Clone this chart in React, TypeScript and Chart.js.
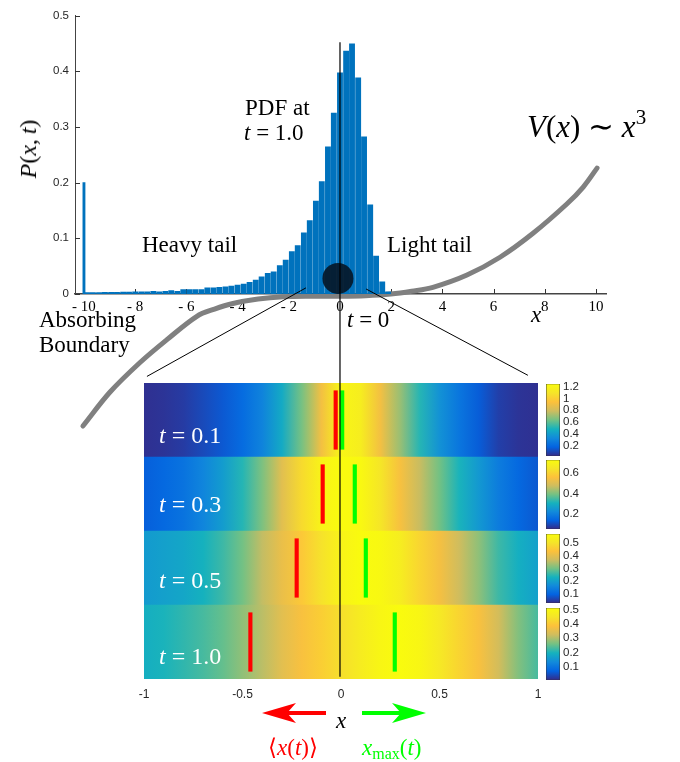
import React, { useEffect, useRef } from "react";
import { Chart, registerables } from "chart.js";
Chart.register(...registerables);

// ---------- top histogram: PDF at t = 1.0 ----------
const BIN_CENTERS = [
  -9.88, -9.65, -9.41, -9.18, -8.94, -8.71, -8.47, -8.24, -8.0, -7.76,
  -7.53, -7.29, -7.06, -6.82, -6.59, -6.35, -6.12, -5.88, -5.65, -5.41,
  -5.18, -4.94, -4.71, -4.47, -4.24, -4.0, -3.76, -3.53, -3.29, -3.06,
  -2.82, -2.59, -2.35, -2.12, -1.88, -1.65, -1.41, -1.18, -0.94, -0.71,
  -0.47, -0.24, 0.0, 0.24, 0.47, 0.71, 0.94, 1.18, 1.41, 1.65, 1.88,
];
const PDF_T1 = [
  0.0025, 0.0025, 0.0025, 0.003, 0.003, 0.003, 0.0035, 0.0035, 0.004, 0.004,
  0.004, 0.005, 0.004, 0.005, 0.006, 0.005, 0.008, 0.008, 0.008, 0.008,
  0.011, 0.011, 0.012, 0.013, 0.014, 0.016, 0.018, 0.021, 0.025, 0.031,
  0.037, 0.04, 0.051, 0.061, 0.076, 0.087, 0.11, 0.132, 0.167, 0.202,
  0.264, 0.325, 0.397, 0.436, 0.449, 0.388, 0.282, 0.16, 0.068, 0.022, 0.004,
];
const BOUNDARY_X = [-10];
const BOUNDARY_P = [0.2];
const TOP_X_TICKS = [-10, -8, -6, -4, -2, 0, 2, 4, 6, 8, 10];
const TOP_Y_TICKS = [0, 0.1, 0.2, 0.3, 0.4, 0.5];

// potential V(x) ~ x^3 (sketched, in the histogram's axis units)
const POT_X = [-10.04, -8.98, -7.81, -6.76, -5.59, -4.9, -4.18, -3.2, -2.23, -1.1, 0, 1.0, 1.99, 2.8, 3.63, 4.96, 6.25, 7.54, 8.87, 9.5, 10.04];
const POT_Y = [-0.237, -0.176, -0.123, -0.082, -0.04, -0.027, -0.017, -0.009, -0.005, -0.004, -0.004, -0.003, 0.0, 0.005, 0.012, 0.034, 0.066, 0.109, 0.162, 0.192, 0.226];

// initial condition at t = 0
const START_X = [-0.08];
const START_P = [0.028];

// zoom guide lines and x = 0 reference line
const ZOOM_L_X = [-1.33, -7.54];
const ZOOM_L_Y = [0.011, -0.148];
const ZOOM_R_X = [1.02, 7.34];
const ZOOM_R_Y = [0.009, -0.146];
const ZERO_LINE_Y = [0.452, -0.687];

// ---------- heat map of P(x,t) near x = 0 ----------
const HEAT_X = [-1, -0.9, -0.8, -0.7, -0.6, -0.5, -0.4, -0.3, -0.2, -0.1, 0, 0.1, 0.2, 0.3, 0.4, 0.5, 0.6, 0.7, 0.8, 0.9, 1];
const TIMES = ["t = 0.1", "t = 0.3", "t = 0.5", "t = 1.0"];
const DENS_T01 = [0.04, 0.05, 0.07, 0.11, 0.15, 0.21, 0.3, 0.45, 0.64, 0.91, 1.21, 1.15, 0.91, 0.7, 0.51, 0.36, 0.25, 0.16, 0.08, 0.05, 0.04];
const DENS_T03 = [0.13, 0.15, 0.17, 0.21, 0.26, 0.32, 0.4, 0.51, 0.62, 0.7, 0.73, 0.72, 0.65, 0.55, 0.47, 0.39, 0.31, 0.25, 0.19, 0.15, 0.12];
const DENS_T05 = [0.19, 0.2, 0.21, 0.23, 0.26, 0.3, 0.36, 0.41, 0.45, 0.5, 0.55, 0.575, 0.565, 0.53, 0.475, 0.425, 0.37, 0.32, 0.26, 0.225, 0.2];
const DENS_T10 = [0.19, 0.2, 0.215, 0.23, 0.25, 0.28, 0.31, 0.35, 0.38, 0.41, 0.44, 0.47, 0.5, 0.513, 0.5, 0.46, 0.42, 0.38, 0.33, 0.27, 0.23];
const HEAT_ROWS = [DENS_T01, DENS_T03, DENS_T05, DENS_T10];
const MEAN_X = [-0.027, -0.093, -0.225, -0.46];
const XMAX_X = [0.006, 0.07, 0.126, 0.273];
const HEAT_TICKS = [-1, -0.5, 0, 0.5, 1];

// colour bars
const CB_MIN = [0.023, 0.051, 0.0245, 0.0067];
const CB_MAX = [1.248, 0.73, 0.575, 0.513];
const CB_TICKS = [
  [0.2, 0.4, 0.6, 0.8, 1, 1.2],
  [0.2, 0.4, 0.6],
  [0.1, 0.2, 0.3, 0.4, 0.5],
  [0.1, 0.2, 0.3, 0.4, 0.5],
];

// ---------- layout / style ----------
const CB_TOP = [382, 458, 532, 606];
const CB_BOTTOM = [458, 531, 605, 682];
const MARK_HW = 0.0105;
const PARULA = [
  [53, 42, 135], [3, 99, 225], [18, 138, 219], [21, 178, 190], [115, 193, 132],
  [206, 189, 95], [253, 193, 59], [245, 229, 41], [249, 251, 14],
];
const SERIF = "'Liberation Serif', 'Times New Roman', serif";
const SANS = "'Liberation Sans', Arial, Helvetica, sans-serif";
const BLUE = "#0072BD";

function parula(t: number): string {
  const v = Math.max(0, Math.min(1, t));
  const n = PARULA.length - 1;
  const f = v * n;
  const i = Math.min(n - 1, Math.floor(f));
  const r = f - i;
  const a = PARULA[i];
  const b = PARULA[i + 1];
  const c = [0, 1, 2].map((k) => Math.round(a[k] + (b[k] - a[k]) * r));
  return `rgb(${c[0]},${c[1]},${c[2]})`;
}

const ok = (...v: number[]) => v.every((n) => Number.isFinite(n));
const plain = (v: any) => String(v);

function rowFill(chart: any, row: number) {
  const xs = chart.scales && chart.scales.x;
  if (!xs || !chart.chartArea || row < 0 || row >= HEAT_ROWS.length) return "#888";
  const x0 = xs.getPixelForValue(HEAT_X[0]);
  const x1 = xs.getPixelForValue(HEAT_X[HEAT_X.length - 1]);
  if (!ok(x0, x1) || x1 <= x0) return "#888";
  const g = chart.ctx.createLinearGradient(x0, 0, x1, 0);
  const vals = HEAT_ROWS[row];
  const lo = CB_MIN[row];
  const hi = CB_MAX[row];
  HEAT_X.forEach((x, j) => {
    const off = (xs.getPixelForValue(x) - x0) / (x1 - x0);
    g.addColorStop(Math.max(0, Math.min(1, off)), parula((vals[j] - lo) / (hi - lo)));
  });
  return g;
}

function cbFill(chart: any, i: number) {
  const ys = chart.scales && chart.scales.y;
  if (!ys || !chart.chartArea) return "#888";
  const y0 = ys.getPixelForValue(CB_MIN[i]);
  const y1 = ys.getPixelForValue(CB_MAX[i]);
  if (!ok(y0, y1) || y0 === y1) return "#888";
  const g = chart.ctx.createLinearGradient(0, y0, 0, y1);
  PARULA.forEach((_, k) => g.addColorStop(k / (PARULA.length - 1), parula(k / (PARULA.length - 1))));
  return g;
}

const inTicks = {
  id: "inTicks",
  beforeDatasetsDraw(chart: any) {
    const { ctx, chartArea, scales } = chart;
    ctx.save();
    ctx.strokeStyle = "#333";
    ctx.lineWidth = 1;
    ctx.beginPath();
    TOP_X_TICKS.forEach((v) => {
      const px = Math.round(scales.x.getPixelForValue(v)) + 0.5;
      ctx.moveTo(px, chartArea.bottom);
      ctx.lineTo(px, chartArea.bottom - 5);
    });
    TOP_Y_TICKS.forEach((v) => {
      const py = Math.round(scales.y.getPixelForValue(v)) + 0.5;
      ctx.moveTo(chartArea.left, py);
      ctx.lineTo(chartArea.left + 5, py);
    });
    ctx.stroke();
    ctx.restore();
  },
};

const pts = (xs: number[], ys: number[]) => xs.map((x, i) => ({ x, y: ys[i] }));

function T({ left, base, size = 23, color = "#000", children, style = {} }: any) {
  return (
    <div
      style={{
        position: "absolute",
        left,
        top: base - 0.8375 * size,
        fontFamily: SERIF,
        fontSize: size,
        lineHeight: 1,
        color,
        whiteSpace: "nowrap",
        ...style,
      }}
    >
      {children}
    </div>
  );
}

export default function App() {
  const topRef = useRef<HTMLCanvasElement>(null);
  const heatRef = useRef<HTMLCanvasElement>(null);
  const cb0 = useRef<HTMLCanvasElement>(null);
  const cb1 = useRef<HTMLCanvasElement>(null);
  const cb2 = useRef<HTMLCanvasElement>(null);
  const cb3 = useRef<HTMLCanvasElement>(null);
  const cbRefs = [cb0, cb1, cb2, cb3];

  useEffect(() => {
    const charts: Chart[] = [];
    const make = (el: any, cfg: any) => {
      try {
        charts.push(new Chart(el, cfg));
      } catch (e) {
        console.error(e);
      }
    };

    make(heatRef.current, {
      type: "bar",
      data: {
        labels: TIMES,
        datasets: [
          {
            label: "xmax",
            data: XMAX_X.map((v) => [v - MARK_HW, v + MARK_HW]),
            backgroundColor: "#00ff00",
            borderWidth: 0,
            barPercentage: 0.8,
            categoryPercentage: 1,
            grouped: false,
            order: 0,
          },
          {
            label: "mean",
            data: MEAN_X.map((v) => [v - MARK_HW, v + MARK_HW]),
            backgroundColor: "#ff0000",
            borderWidth: 0,
            barPercentage: 0.8,
            categoryPercentage: 1,
            grouped: false,
            order: 1,
          },
          {
            label: "P(x,t)",
            data: TIMES.map(() => [HEAT_X[0], HEAT_X[HEAT_X.length - 1]]),
            backgroundColor: (c: any) => rowFill(c.chart, c.dataIndex),
            borderWidth: 0,
            barPercentage: 1,
            categoryPercentage: 1,
            grouped: false,
            order: 2,
          },
        ],
      },
      options: {
        indexAxis: "y",
        animation: false,
        responsive: false,
        events: [],
        layout: { padding: { left: 144, right: 142, top: 23, bottom: 21 } },
        plugins: { legend: { display: false }, tooltip: { enabled: false } },
        scales: {
          x: {
            type: "linear",
            min: -1,
            max: 1,
            offset: false,
            afterBuildTicks: (s: any) => {
              s.ticks = HEAT_TICKS.map((value) => ({ value }));
            },
            afterFit: (s: any) => {
              s.height = 20;
            },
            ticks: { callback: plain, font: { family: SANS, size: 12 }, color: "#262626", padding: 8, maxRotation: 0, autoSkip: false },
            grid: { display: false, drawTicks: false },
            border: { display: false },
          },
          y: { display: false },
        },
      },
    });

    cbRefs.forEach((r, i) => {
      make(r.current, {
        type: "bar",
        data: {
          labels: [""],
          datasets: [
            {
              data: [[CB_MIN[i], CB_MAX[i]]],
              backgroundColor: (c: any) => cbFill(c.chart, i),
              borderColor: "#333",
              borderWidth: 0.8,
              borderSkipped: false,
              barPercentage: 1,
              categoryPercentage: 1,
            },
          ],
        },
        options: {
          animation: false,
          responsive: false,
          events: [],
          layout: { padding: { left: 16, right: 0, top: 8, bottom: 8 } },
          plugins: { legend: { display: false }, tooltip: { enabled: false } },
          scales: {
            x: { display: false },
            y: {
              position: "right",
              min: CB_MIN[i],
              max: CB_MAX[i],
              afterBuildTicks: (s: any) => {
                s.ticks = CB_TICKS[i].map((value) => ({ value }));
              },
              afterFit: (s: any) => {
                s.width = 40;
              },
              ticks: { callback: plain, font: { family: SANS, size: 11.5 }, color: "#262626", padding: 3, autoSkip: false },
              grid: { display: false, drawTicks: false },
              border: { display: false },
            },
          },
        },
      });
    });

    make(topRef.current, {
      type: "bar",
      data: {
        datasets: [
          {
            type: "line",
            label: "x = 0",
            data: ZERO_LINE_Y.map((y) => ({ x: 0, y })),
            borderColor: "#000",
            borderWidth: 1.2,
            pointRadius: 0,
            clip: false,
            order: 0,
          },
          {
            type: "line",
            label: "t = 0",
            data: pts(START_X, START_P),
            showLine: false,
            pointRadius: 15.5,
            pointBackgroundColor: "rgba(6,22,38,0.9)",
            pointBorderWidth: 0,
            clip: false,
            order: 1,
          },
          {
            type: "line",
            label: "zoom left",
            data: pts(ZOOM_L_X, ZOOM_L_Y),
            borderColor: "#000",
            borderWidth: 1,
            pointRadius: 0,
            clip: false,
            order: 2,
          },
          {
            type: "line",
            label: "zoom right",
            data: pts(ZOOM_R_X, ZOOM_R_Y),
            borderColor: "#000",
            borderWidth: 1,
            pointRadius: 0,
            clip: false,
            order: 2,
          },
          {
            type: "bar",
            label: "PDF",
            data: pts(BIN_CENTERS, PDF_T1),
            backgroundColor: BLUE,
            barThickness: 5.2,
            grouped: false,
            order: 3,
          },
          {
            type: "bar",
            label: "boundary",
            data: pts(BOUNDARY_X, BOUNDARY_P),
            backgroundColor: BLUE,
            barThickness: 2.2,
            grouped: false,
            order: 3,
          },
          {
            type: "line",
            label: "V(x)",
            data: pts(POT_X, POT_Y),
            borderColor: "#808080",
            borderWidth: 5,
            borderCapStyle: "round",
            borderJoinStyle: "round",
            pointRadius: 0,
            tension: 0.35,
            clip: false,
            order: 5,
          },
        ],
      },
      options: {
        animation: false,
        responsive: false,
        events: [],
        layout: { padding: { left: 0, right: 74, top: 13, bottom: 448 } },
        plugins: { legend: { display: false }, tooltip: { enabled: false } },
        scales: {
          x: {
            type: "linear",
            min: -10.35,
            max: 10.39,
            offset: false,
            afterBuildTicks: (s: any) => {
              s.ticks = TOP_X_TICKS.map((value) => ({ value }));
            },
            afterFit: (s: any) => {
              s.height = 20;
            },
            ticks: {
              callback: (v: any) => (v < 0 ? "- " + Math.abs(v) : String(v)),
              font: { family: SERIF, size: 15 },
              color: "#000",
              padding: 4,
              maxRotation: 0,
              autoSkip: false,
            },
            grid: { display: false, drawTicks: false },
            border: { display: true, color: "#444", width: 1.5 },
          },
          y: {
            min: 0,
            max: 0.5,
            afterBuildTicks: (s: any) => {
              s.ticks = TOP_Y_TICKS.map((value) => ({ value }));
            },
            afterFit: (s: any) => {
              s.width = 75;
            },
            ticks: { callback: plain, font: { family: SANS, size: 11.5 }, color: "#262626", padding: 6, autoSkip: false },
            grid: { display: false, drawTicks: false },
            border: { display: true, color: "#444", width: 1 },
          },
        },
      },
      plugins: [inTicks],
    });

    return () => charts.forEach((c) => c.destroy());
  }, []);

  const white = { color: "#fff" };
  const rowBase = [443, 512, 588, 664];

  return (
    <div style={{ position: "fixed", left: 0, top: 0, width: 680, height: 762, background: "#fff", overflow: "hidden" }}>
      <canvas ref={heatRef} width={680} height={360} style={{ position: "absolute", left: 0, top: 360, width: 680, height: 360 }} />
      {cbRefs.map((r, i) => (
        <canvas
          key={i}
          ref={r}
          width={70}
          height={CB_BOTTOM[i] - CB_TOP[i] + 16}
          style={{ position: "absolute", left: 530, top: CB_TOP[i] - 8, width: 70, height: CB_BOTTOM[i] - CB_TOP[i] + 16 }}
        />
      ))}
      <canvas ref={topRef} width={680} height={762} style={{ position: "absolute", left: 0, top: 0, width: 680, height: 762 }} />

      <div
        style={{
          position: "absolute",
          left: 28,
          top: 149,
          transform: "translate(-50%, -50%) rotate(-90deg)",
          fontFamily: SERIF,
          fontSize: 24,
          lineHeight: 1,
          whiteSpace: "nowrap",
        }}
      >
        <i>P</i>(<i>x</i>,&thinsp;<i>t</i>)
      </div>

      <T left={245} base={115}>PDF at</T>
      <T left={244} base={140}>
        <i>t</i> = 1.0
      </T>
      <T left={142} base={252}>Heavy tail</T>
      <T left={387} base={252}>Light tail</T>
      <T left={527} base={137} size={31}>
        <i>V</i>(<i>x</i>)&nbsp;∼&nbsp;<i>x</i>
        <span style={{ fontSize: 21, position: "relative", top: -13 }}>3</span>
      </T>
      <T left={531} base={322}>
        <i>x</i>
      </T>
      <T left={347} base={327}>
        <i>t</i> = 0
      </T>
      <T left={39} base={327}>Absorbing</T>
      <T left={39} base={352}>Boundary</T>

      {TIMES.map((lab, i) => (
        <T key={lab} left={159} base={rowBase[i]} size={24} style={white}>
          <i>t</i> = {lab.slice(4)}
        </T>
      ))}

      <svg width={680} height={762} style={{ position: "absolute", left: 0, top: 0, pointerEvents: "none" }}>
        <polygon points="262,713 296,703 287,713 296,723" fill="#ff0000" />
        <rect x={287} y={711} width={39} height={4} fill="#ff0000" />
        <polygon points="426,713 392,703 401,713 392,723" fill="#00ff00" />
        <rect x={362} y={711} width={39} height={4} fill="#00ff00" />
      </svg>

      <T left={336} base={728}>
        <i>x</i>
      </T>
      <T left={268} base={755} color="#ff0000">
        ⟨<i>x</i>(<i>t</i>)⟩
      </T>
      <T left={362} base={755} color="#00ff00">
        <i>x</i>
        <span style={{ fontSize: 16, position: "relative", top: 4 }}>max</span>(<i>t</i>)
      </T>
    </div>
  );
}
